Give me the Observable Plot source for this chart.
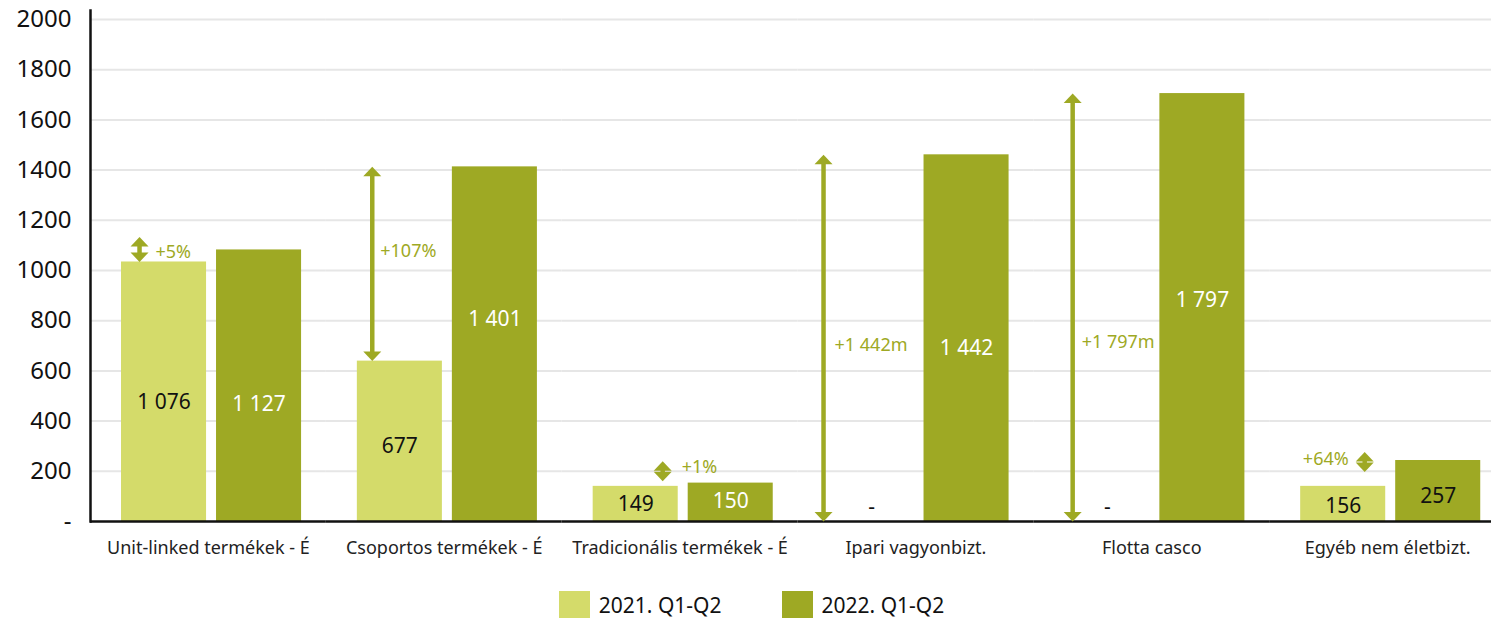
<!DOCTYPE html>
<html>
<head>
<meta charset="utf-8">
<script src="https://cdn.jsdelivr.net/npm/d3@7"></script>
<script src="https://cdn.jsdelivr.net/npm/@observablehq/plot@0.6"></script>
<style>
  body { margin: 0; background: #fff; font-family: "Noto Sans", sans-serif; }
  #legend { display: flex; justify-content: center; align-items: center; gap: 60px; height: 43px; margin-top: 8px; padding-left: 12px; }
  .item { display: flex; align-items: center; gap: 9px; font-size: 21px; color: #111; }
  .sw { width: 31px; height: 27px; display: inline-block; }
</style>
</head>
<body>
<div id="chart"></div>
<div id="legend"></div>
<script>
// ---- data ----
const categories = ["Unit-linked termékek - É", "Csoportos termékek - É", "Tradicionális termékek - É", "Ipari vagyonbizt.", "Flotta casco", "Egyéb nem életbizt."];
const seriesNames = ["2021. Q1-Q2", "2022. Q1-Q2"];
const values2021 = [1034, 639, 140, 0, 0, 140];
const values2022 = [1082, 1413, 153, 1461, 1705, 243];
const labels2021 = ["1 076", "677", "149", "-", "-", "156"];
const labels2022 = ["1 127", "1 401", "150", "1 442", "1 797", "257"];
const changeLabels = ["+5%", "+107%", "+1%", "+1 442m", "+1 797m", "+64%"];
const changeFrom = [1034, 639, 160, 0, 0, 197];
const changeTo = [1134, 1413, 240, 1461, 1705, 277];
const yTicks = [0, 200, 400, 600, 800, 1000, 1200, 1400, 1600, 1800, 2000];

// ---- styles ----
const colors = ["#d4db6a", "#9ea924"];
const olive = "#9ea924";
const labelInk2021 = ["#111", "#111", "#111", "#111", "#111", "#111"];
const labelInk2022 = ["#fff", "#fff", "#fff", "#fff", "#fff", "#111"];
const labelNudge2021 = [11, 5, 0, -14, -14, 2.5];
const labelNudge2022 = [18.5, -25, -1, 10.5, -7, 5];
const arrowShift = [-24.5, -27.6, 27, -48, -34.7, 21.5];
const changeLabelShift = [16, 8, 19, 11, 9, -16];
const changeLabelNudge = [2.5, -13, -4, 7, 34.5, -3];

const rows = categories.flatMap((c, i) => [
  {cat: c, series: seriesNames[0], value: values2021[i], label: labels2021[i], ink: labelInk2021[i], nudge: labelNudge2021[i]},
  {cat: c, series: seriesNames[1], value: values2022[i], label: labels2022[i], ink: labelInk2022[i], nudge: labelNudge2022[i]}
]);
const changes = categories.map((c, i) => ({
  cat: c, series: seriesNames[0], from: changeFrom[i], to: changeTo[i], label: changeLabels[i], i
}));

const headUp = {draw(ctx) { ctx.moveTo(0, 0); ctx.lineTo(9, 9.5); ctx.lineTo(-9, 9.5); ctx.closePath(); }};
const headDown = {draw(ctx) { ctx.moveTo(0, 0); ctx.lineTo(9, -9.5); ctx.lineTo(-9, -9.5); ctx.closePath(); }};

const arrowMarks = changes.flatMap(d => {
  const dx = arrowShift[d.i];
  const ldx = dx + changeLabelShift[d.i];
  return [
    Plot.ruleX([d], {fx: "cat", x: "series", y1: "to", y2: "from", stroke: olive, strokeWidth: 4.5, insetTop: 8, insetBottom: 8, dx}),
    Plot.dot([d], {fx: "cat", x: "series", y: "to", symbol: headUp, fill: olive, stroke: null, dx}),
    Plot.dot([d], {fx: "cat", x: "series", y: "from", symbol: headDown, fill: olive, stroke: null, dx}),
    Plot.text([d], {fx: "cat", x: "series", y: dd => (dd.from + dd.to) / 2, text: "label", fill: olive, fontSize: 18,
      textAnchor: changeLabelShift[d.i] < 0 ? "end" : "start", dx: ldx, dy: changeLabelNudge[d.i]})
  ];
});

const valueMarks = rows.map(d =>
  Plot.text([d], {fx: "cat", x: "series", y: dd => dd.value / 2, text: "label", fill: d.ink, fontSize: 21, dy: d.nudge})
);

const chart = Plot.plot({
  width: 1491,
  height: 575,
  marginLeft: 90,
  marginRight: -14,
  marginTop: 10,
  marginBottom: 54,
  style: {fontFamily: "'Noto Sans', sans-serif", background: "#fff", overflow: "visible"},
  fx: {domain: categories, paddingInner: 0, paddingOuter: 0, round: false},
  x: {domain: seriesNames, paddingInner: 0.105, paddingOuter: 0.2935, align: 0.556, round: false, axis: null},
  y: {domain: [0, 2036]},
  color: {domain: seriesNames, range: colors},
  marks: [
    Plot.gridY(yTicks.filter(d => d > 0), {stroke: "#e6e6e6", strokeOpacity: 1, strokeWidth: 2}),
    Plot.barY(rows, {fx: "cat", x: "series", y: "value", fill: "series"}),
    Plot.ruleY([0], {stroke: "#111", strokeWidth: 2.5}),
    Plot.frame({anchor: "left", facetAnchor: "left", stroke: "#111", strokeWidth: 2.5}),
    Plot.axisY({ticks: yTicks, tickSize: 0, tickPadding: 19, fontSize: 24, fill: "#111", label: null,
      tickFormat: d => d === 0 ? "-" : String(d)}),
    Plot.axisFx({anchor: "bottom", tickSize: 0, tickPadding: 20, fontSize: 18, fill: "#222", label: null}),
    ...valueMarks,
    ...arrowMarks
  ]
});
document.getElementById("chart").append(chart);

const legend = document.getElementById("legend");
seriesNames.forEach((s, i) => {
  const item = document.createElement("div");
  item.className = "item";
  const sw = document.createElement("span");
  sw.className = "sw";
  sw.style.background = colors[i];
  const t = document.createElement("span");
  t.textContent = s;
  item.append(sw, t);
  legend.append(item);
});
</script>
</body>
</html>
